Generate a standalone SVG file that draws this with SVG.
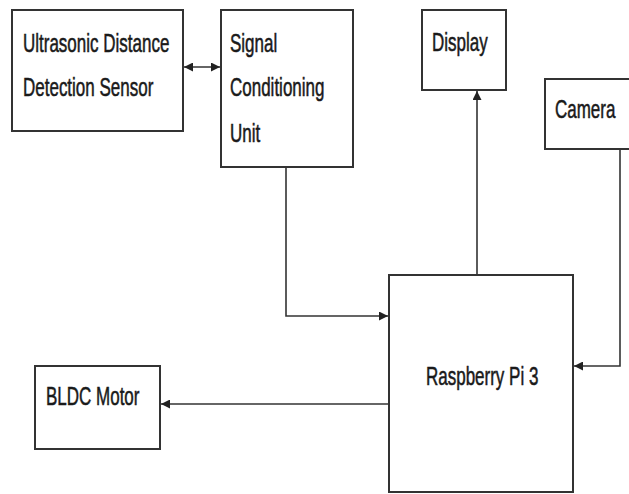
<svg xmlns="http://www.w3.org/2000/svg" width="629" height="494" viewBox="0 0 629 494">
<style>
.box{fill:#fff;stroke:#333;stroke-width:2}
.lbl{font-family:"Liberation Sans",Arial,sans-serif;font-size:17px;fill:#1a1a1a;stroke:#1a1a1a;stroke-width:0.35}
.con{fill:none;stroke:#333;stroke-width:1.6}
</style>
<defs>
<marker id="ah" viewBox="0 0 10 10" refX="10" refY="5" markerWidth="9" markerHeight="9" markerUnits="userSpaceOnUse" orient="auto-start-reverse">
<path d="M0,0 L10,5 L0,10 z" fill="#222"/>
</marker>
</defs>
<rect width="629" height="494" fill="#fff"/>
<g id="connectors">
<path class="con" d="M184,67 H220" marker-start="url(#ah)" marker-end="url(#ah)"/>
<path class="con" d="M286,167 V316 H388" marker-end="url(#ah)"/>
<path class="con" d="M477,275 V91" marker-end="url(#ah)"/>
<path class="con" d="M620,149 V366 H574" marker-end="url(#ah)"/>
<path class="con" d="M389,404 H161" marker-end="url(#ah)"/>
</g>
<g id="ultrasonic">
<rect class="box" x="12" y="10" width="171" height="121"/>
<text class="lbl" transform="translate(23,52) scale(1,1.55)">Ultrasonic Distance</text>
<text class="lbl" transform="translate(23,96) scale(1,1.55)">Detection Sensor</text>
</g>
<g id="signal">
<rect class="box" x="221" y="10" width="132" height="157"/>
<text class="lbl" transform="translate(230,52) scale(1,1.55)">Signal</text>
<text class="lbl" transform="translate(230,96) scale(1,1.55)">Conditioning</text>
<text class="lbl" transform="translate(230,142) scale(1,1.55)">Unit</text>
</g>
<g id="display">
<rect class="box" x="422" y="10" width="84" height="80"/>
<text class="lbl" transform="translate(432,51) scale(1,1.55)">Display</text>
</g>
<g id="camera">
<rect class="box" x="545" y="79" width="90" height="70"/>
<text class="lbl" transform="translate(555,118) scale(1,1.55)">Camera</text>
</g>
<g id="rpi">
<rect class="box" x="389" y="275" width="184" height="217"/>
<text class="lbl" transform="translate(426,385) scale(1,1.55)">Raspberry Pi 3</text>
</g>
<g id="bldc">
<rect class="box" x="35" y="366" width="125" height="83"/>
<text class="lbl" transform="translate(46,405) scale(1,1.55)">BLDC Motor</text>
</g>
</svg>
